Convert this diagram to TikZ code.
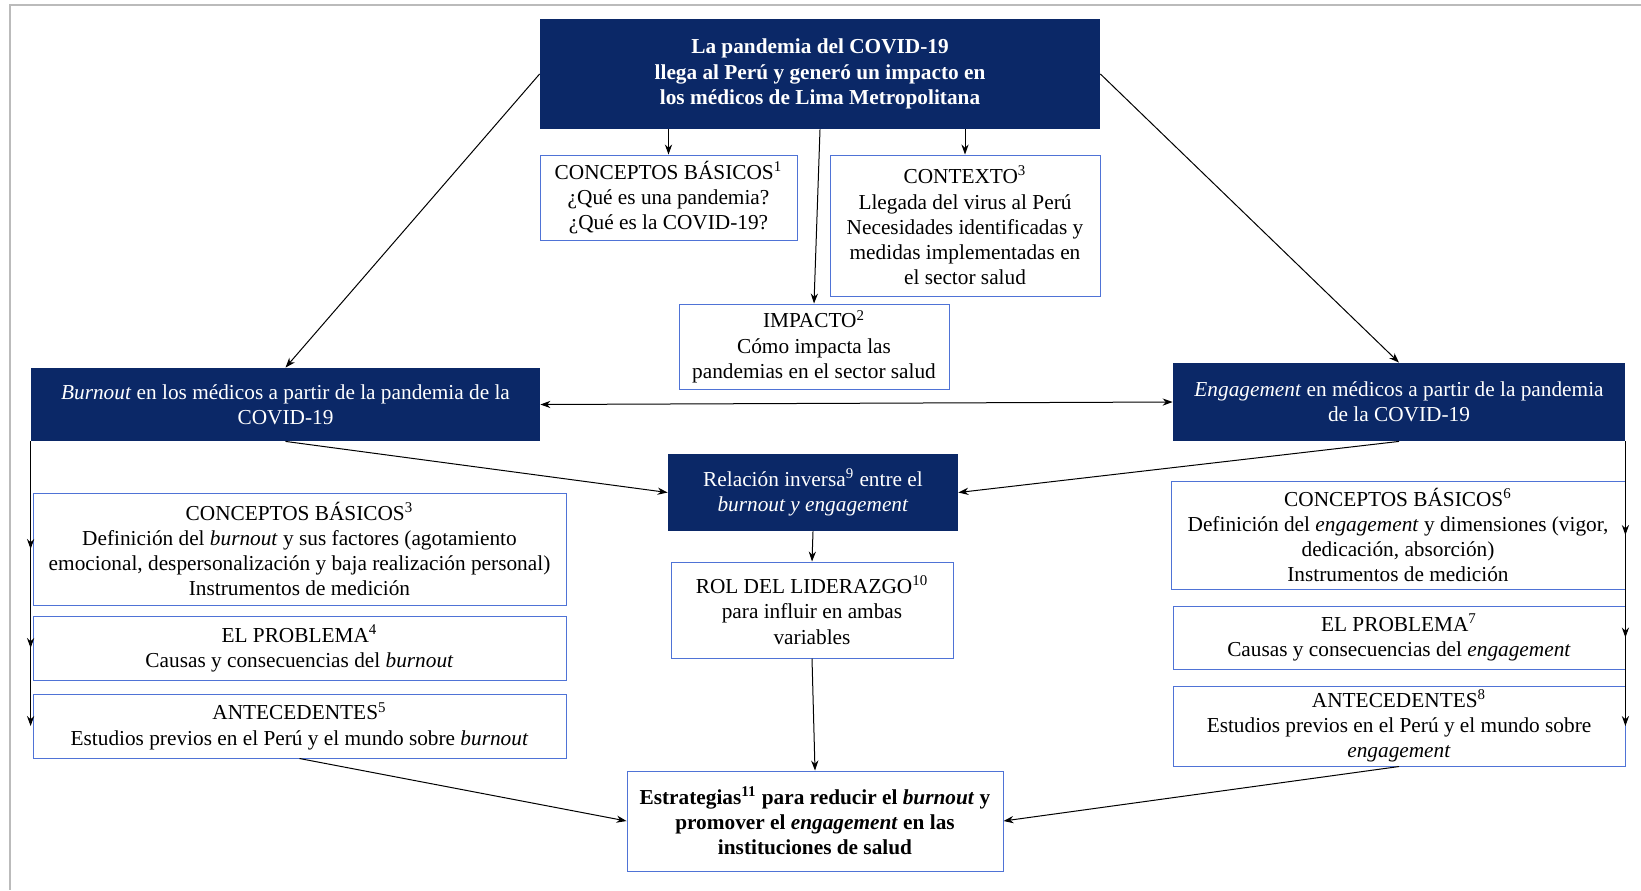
\documentclass[tikz,border=0pt]{standalone}
\usepackage{fontspec}
\setmainfont{Liberation Serif}
\usetikzlibrary{arrows.meta,calc}
\definecolor{NavyFill}{HTML}{0B2867}
\definecolor{BoxLine}{HTML}{4F73D6}
\definecolor{FrameGray}{HTML}{BBBBBB}

\begin{document}
\begin{tikzpicture}[x=0.5pt,y=-0.5pt,
  darkbox/.style={fill=NavyFill,text=white,inner sep=0pt,align=center,
    font=\fontsize{10.65}{12.6}\selectfont},
  lightbox/.style={draw=BoxLine,line width=0.5pt,fill=white,inner sep=0pt,
    align=center,font=\fontsize{10.65}{12.6}\selectfont},
  link/.style={-{Stealth[length=5pt,width=3.6pt]},line width=0.5pt}]
  \useasboundingbox (0,0) rectangle (1641,890);
  \draw[draw=FrameGray,line width=0.6pt] (1641,5) -- (10,5) -- (10,890);

  % top
  \node[darkbox,minimum width=280pt,minimum height=55pt,font=\bfseries\fontsize{10.65}{12.6}\selectfont]
    (top) at (820,74) {La pandemia del COVID-19\\llega al Perú y generó un impacto en\\los médicos de Lima Metropolitana};
  \node[lightbox,minimum width=128.5pt,minimum height=42.5pt]
    (cb1) at (668.5,197.5) {CONCEPTOS BÁSICOS\textsuperscript{1}\\¿Qué es una pandemia?\\¿Qué es la COVID-19?};
  \node[lightbox,minimum width=135pt,minimum height=70.5pt]
    (ctx) at (965,225.5) {CONTEXTO\textsuperscript{3}\\Llegada del virus al Perú\\Necesidades identificadas y\\medidas implementadas en\\el sector salud};
  \node[lightbox,minimum width=135pt,minimum height=42.5pt]
    (imp) at (814,346.5) {IMPACTO\textsuperscript{2}\\Cómo impacta las\\pandemias en el sector salud};

  % burnout / engagement
  \node[darkbox,minimum width=254.5pt,minimum height=36.5pt]
    (burn) at (285.5,404.5) {\textit{Burnout} en los médicos a partir de la pandemia de la\\COVID-19};
  \node[darkbox,minimum width=226pt,minimum height=39pt]
    (eng) at (1399,402) {\textit{Engagement} en médicos a partir de la pandemia\\de la COVID-19};
  \node[darkbox,minimum width=145pt,minimum height=38.5pt]
    (rel) at (813,492.5) {Relación inversa\textsuperscript{9} entre el\\\textit{burnout y engagement}};

  \node[lightbox,minimum width=266.5pt,minimum height=56pt]
    (cb3) at (299.5,549) {CONCEPTOS BÁSICOS\textsuperscript{3}\\Definición del \textit{burnout} y sus factores (agotamiento\\emocional, despersonalización y baja realización personal)\\Instrumentos de medición};
  \node[lightbox,minimum width=266.5pt,minimum height=32pt]
    (prb4) at (299.5,648) {EL PROBLEMA\textsuperscript{4}\\Causas y consecuencias del \textit{burnout}};
  \node[lightbox,minimum width=266.5pt,minimum height=32pt]
    (ant5) at (299.5,726) {ANTECEDENTES\textsuperscript{5}\\Estudios previos en el Perú y el mundo sobre \textit{burnout}};

  \node[lightbox,minimum width=227pt,minimum height=54pt]
    (cb6) at (1398,535) {CONCEPTOS BÁSICOS\textsuperscript{6}\\Definición del \textit{engagement} y dimensiones (vigor,\\dedicación, absorción)\\Instrumentos de medición};
  \node[lightbox,minimum width=226pt,minimum height=31.5pt]
    (prb7) at (1399,637.5) {EL PROBLEMA\textsuperscript{7}\\Causas y consecuencias del \textit{engagement}};
  \node[lightbox,minimum width=226pt,minimum height=40pt]
    (ant8) at (1399,726) {ANTECEDENTES\textsuperscript{8}\\Estudios previos en el Perú y el mundo sobre\\\textit{engagement}};

  \node[lightbox,minimum width=141pt,minimum height=48pt]
    (rol) at (812,610) {ROL DEL LIDERAZGO\textsuperscript{10}\\para influir en ambas\\variables};
  \node[lightbox,minimum width=188pt,minimum height=50pt,font=\bfseries\fontsize{10.65}{12.6}\selectfont]
    (est) at (815,821) {Estrategias\textsuperscript{11} para reducir el \textit{burnout} y\\promover el \textit{engagement} en las\\instituciones de salud};

  % connectors
  \draw[link] (top.west) -- (burn.north);
  \draw[link] (top.east) -- (eng.north);
  \draw[link] (top.south -| cb1.north) -- (cb1.north);
  \draw[link] (top.south -| ctx.north) -- (ctx.north);
  \draw[link] (top.south) -- (imp.north);
  \draw[link,{Stealth[length=5pt,width=3.6pt]}-{Stealth[length=5pt,width=3.6pt]}] (burn.east) -- (eng.west);
  \draw[link] (burn.south) -- (rel.west);
  \draw[link] (eng.south) -- (rel.east);
  \draw[link] (rel.south) -- (rol.north);
  \draw[link] (rol.south) -- (est.north);
  \draw[link] (ant5.south) -- (est.west);
  \draw[link] (ant8.south) -- (est.east);
  \foreach \blk in {cb3,prb4,ant5}
    \draw[link] (burn.south west) -- (burn.south west |- \blk.west);
  \foreach \blk in {cb6,prb7,ant8}
    \draw[link] (eng.south east) -- (eng.south east |- \blk.east);
\end{tikzpicture}
\end{document}
